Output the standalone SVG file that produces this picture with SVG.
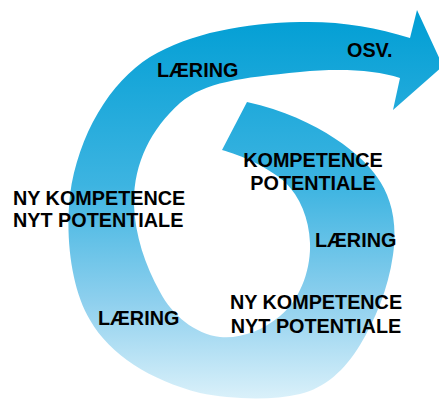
<svg xmlns="http://www.w3.org/2000/svg" width="439" height="400" viewBox="0 0 439 400">
<defs>
<linearGradient id="g" gradientUnits="userSpaceOnUse" x1="0" y1="10" x2="0" y2="400">
<stop offset="0" stop-color="#009ed4"/>
<stop offset="0.45" stop-color="#3db4e1"/>
<stop offset="0.75" stop-color="#8fd0ee"/>
<stop offset="1" stop-color="#dbf1fa"/>
</linearGradient>
<style>
text{font-family:"Liberation Sans",Arial,sans-serif;font-weight:bold;font-size:19.8px;fill:#000}
</style>
</defs>
<rect width="439" height="400" fill="#fff"/>
<g id="spiral">
<path fill="url(#g)" d="M222,150 C240,155 268,167 285,182 C300,197 309,218 310,243 C311,270 300,300 280,316 C262,331 240,339 220,337 C195,334 172,315 160,292 C145,265 135,235 134,205 C133,165 150,130 180,103 C205,82 240,78 300,72 C340,68 375,70 400,78 L393,110 L443,66 L417,10 L410,38 C375,27 340,21 300,22 C245,23 190,33 150,57 C110,82 78,135 70,195 C65,240 72,290 90,320 C110,355 150,380 200,393 C230,399 270,401 300,394 C325,388 345,370 360,345 C375,320 388,290 393,255 C398,220 390,195 377,177 C365,158 320,118 247,102 Z"/>
</g>
<g id="labels">
<text x="157" y="77">LÆRING</text>
<text x="347" y="57">OSV.</text>
<text x="313" y="167" text-anchor="middle">KOMPETENCE</text>
<text x="313" y="190" text-anchor="middle">POTENTIALE</text>
<text x="13" y="205">NY KOMPETENCE</text>
<text x="13" y="227">NYT POTENTIALE</text>
<text x="315" y="247">LÆRING</text>
<text x="98" y="325">LÆRING</text>
<text x="316" y="309" text-anchor="middle">NY KOMPETENCE</text>
<text x="316" y="333" text-anchor="middle">NYT POTENTIALE</text>
</g>
</svg>
